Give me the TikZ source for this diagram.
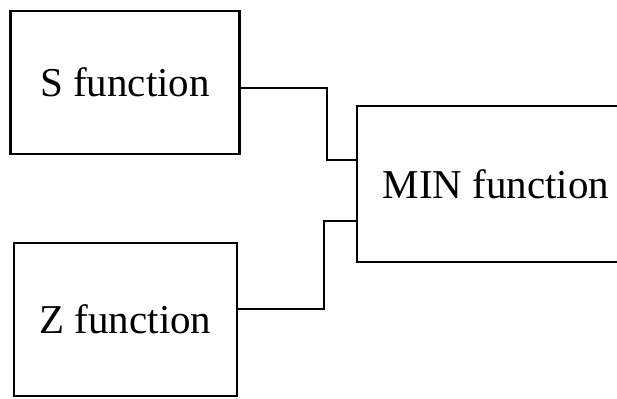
\documentclass[tikz,border=0pt]{standalone}
\usepackage{fontspec}
\setmainfont{Liberation Serif}
\usetikzlibrary{positioning,calc}

\begin{document}
\begin{tikzpicture}[
  x=1pt, y=-1pt,
  funcbox/.style={
    rectangle, draw=black, line width=2.4pt,
    fill=white, inner sep=0pt,
    font=\fontsize{41}{49}\selectfont
  },
  wire/.style={draw=black, line width=2.4pt}
]
\useasboundingbox (0,0) rectangle (617,398);
\clip (0,0) rectangle (617,398);

\node[funcbox, minimum width=229pt, minimum height=143pt] (sfun) at (125,82.5) {S function};
\node[funcbox, minimum width=223pt, minimum height=153pt] (zfun) at (125.5,319.5) {Z function};
\node[funcbox, minimum width=278pt, minimum height=156pt] (minfun) at (496,184) {MIN function};

\draw[wire] ([yshift=-5.5pt]sfun.east) -- ++(86,0) |- ([yshift=24pt]minfun.west);
\draw[wire] ([yshift=10.5pt]zfun.east) -- ++(86,0) |- ([yshift=-37pt]minfun.west);
\end{tikzpicture}
\end{document}
